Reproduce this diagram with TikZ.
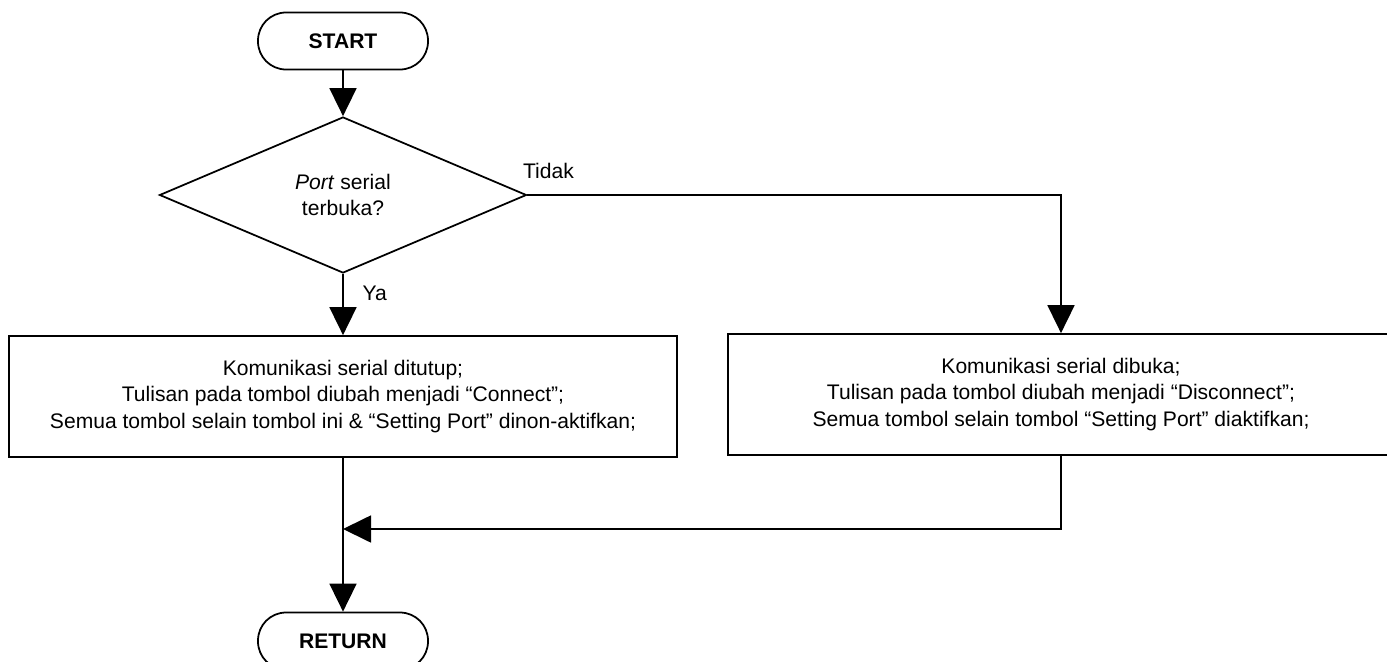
\documentclass[tikz,border=0pt]{standalone}
\usepackage{fontspec}
\setmainfont{Liberation Sans}
\usetikzlibrary{arrows.meta,positioning,shapes.geometric}

\begin{document}
\begin{tikzpicture}[every node/.style={font=\fontsize{12}{15}\selectfont}, line width=1pt,
  term/.style={draw, rounded corners=0.56cm, minimum height=1.14cm, minimum width=3.4cm, font=\fontsize{12}{15}\selectfont\bfseries},
  cond/.style={draw, diamond, minimum width=7.34cm, minimum height=3.12cm, inner sep=0pt, align=center},
  proc/.style={draw, minimum height=2.42cm, minimum width=13.36cm, align=center},
  >={Triangle[length=5.6mm, width=5.4mm]}]

                \useasboundingbox (0,0) rectangle (27.74,-13.22);

                \node[term] (start) at (6.86,-0.82) {START};
                \node[cond] (dec)   at (6.86,-3.9)  {\textit{Port} serial\\terbuka?};
                \node[proc] (closed) at (6.86,-7.93) {Komunikasi serial ditutup;\\Tulisan pada tombol diubah menjadi “Connect”;\\Semua tombol selain tombol ini \& “Setting Port” dinon-aktifkan;};
                \node[proc, minimum width=13.32cm] (opened) at (21.22,-7.89) {Komunikasi serial dibuka;\\Tulisan pada tombol diubah menjadi “Disconnect”;\\Semua tombol selain tombol “Setting Port” diaktifkan;};
                \node[term] (ret)   at (6.86,-12.82) {RETURN};

                \coordinate (join) at (6.86,-10.58);

                \draw[->] (start) -- (dec);
                \draw[->] (dec) -- node[pos=0.32, right=0.26cm]{Ya} (closed);
                \draw[->] (dec.east) -| node[pos=0, anchor=south west, xshift=-0.22cm, yshift=0.2cm]{Tidak} (opened.north);
                \draw[->] (closed) -- (ret);
                \draw[->] (opened.south) |- (join);
            \end{tikzpicture}
\end{document}
